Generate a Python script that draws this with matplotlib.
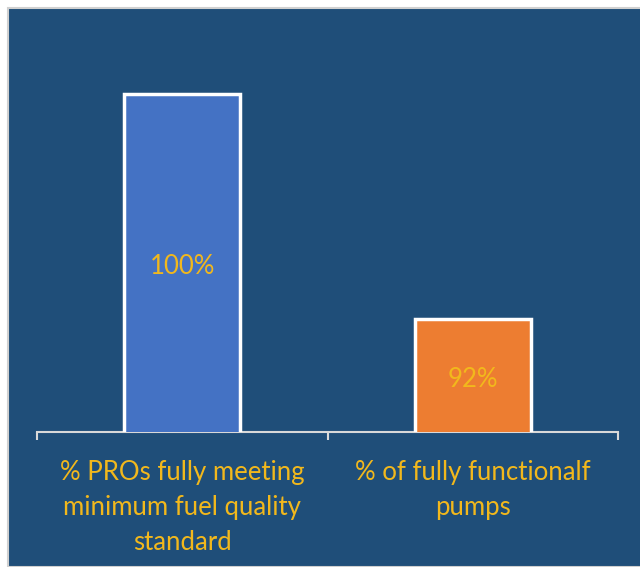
import matplotlib.pyplot as plt
from matplotlib.patches import Rectangle

categories = ['% PROs fully meeting\nminimum fuel quality\nstandard', '% of fully functionalf\npumps']
values = [100, 92]
labels = ['100%', '92%']
colors = ['#4472C4', '#ED7D31']

bg = '#1F4E79'
gold = '#F2B81C'

fig = plt.figure(figsize=(6.4, 5.67), dpi=100, facecolor='white')
# dark panel with thin grey border
fig.patches.append(Rectangle((8/640, 0), 1, 1 - 8/567, transform=fig.transFigure,
                             facecolor=bg, edgecolor='#D0D0D0', linewidth=1.5, zorder=-1))

ax = fig.add_axes([37/640, 135/567, 581/640, (432 - 38)/567])
ax.set_facecolor('none')
ax.set_zorder(2)

x = range(len(values))
ax.bar(x, values, width=0.40, color=colors, edgecolor='white', linewidth=2.5, zorder=3)
for i, v in enumerate(values):
    ax.text(i, (88 + v) / 2 - 0.12, labels[i], ha='center', va='center', color=gold,
            fontsize=18.5, family='Lato', zorder=4)

ax.set_xlim(-0.5, 1.5)
ax.set_ylim(88, 102)

for s in ['top', 'right', 'left']:
    ax.spines[s].set_visible(False)
ax.spines['bottom'].set_color('#D9D9D9')
ax.spines['bottom'].set_linewidth(1.5)
ax.set_yticks([])

ax.set_xticks(list(x))
ax.set_xticklabels(categories, color=gold, fontsize=18.5, family='Lato',
                   linespacing=1.5)
ax.tick_params(axis='x', which='major', length=0, pad=20)
ax.set_xticks([-0.5, 0.5, 1.5], minor=True)
ax.tick_params(axis='x', which='minor', length=6, width=1.5, color='#D9D9D9', direction='out')

plt.savefig('out.png', dpi=100, facecolor=fig.get_facecolor())
